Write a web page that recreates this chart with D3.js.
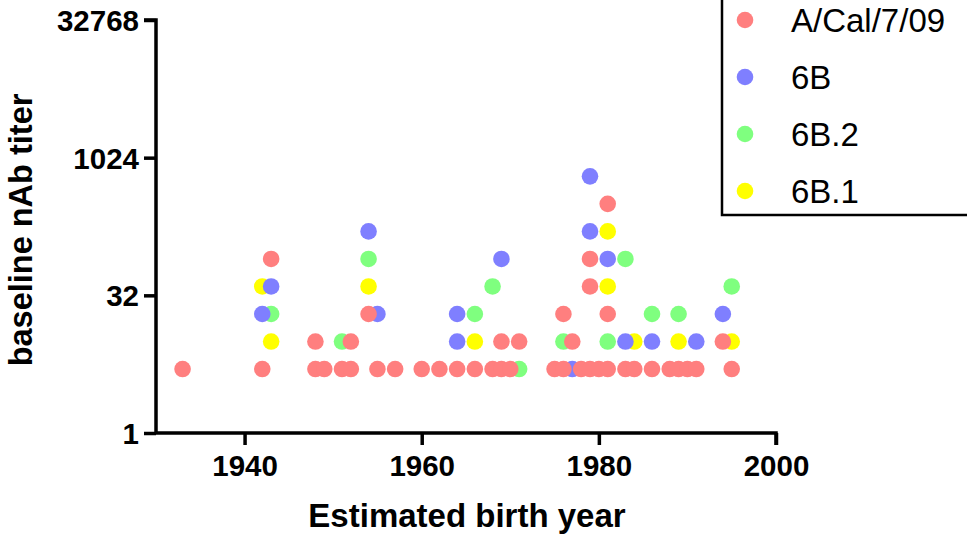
<!DOCTYPE html>
<html>
<head>
<meta charset="utf-8">
<script src="https://cdn.jsdelivr.net/npm/d3@7"></script>
<style>
  html, body { margin: 0; padding: 0; background: #fff; }
  svg { display: block; }
  text { font-family: "Liberation Sans", Arial, sans-serif; fill: #000; }
</style>
</head>
<body>
<svg id="chart" width="967" height="534"></svg>
<script>
// ---- data (estimated birth year, baseline nAb titer) ----
const seriesNames = ["A/Cal/7/09", "6B", "6B.2", "6B.1"];
const seriesColors = ["#ff7f7f", "#7f7fff", "#7fff7f", "#ffff00"];

const aCalYears  = [1933,1942,1943,1948,1948,1949,1951,1952,1952,1954,1955,1957,1960,1962,1964,1966,1968,1969,1969,1970,1971,1975,1976,1976,1977,1978,1979,1979,1979,1980,1981,1981,1981,1983,1984,1986,1988,1989,1990,1991,1994,1995];
const aCalTiters = [5,   5,   80,  10,  5,   5,   5,   10,  5,   20,  5,   5,   5,   5,   5,   5,   5,   10,  5,   5,   10,  5,   20,  5,   10,  5,   80,  40,  5,   5,   320, 20,  5,   5,   5,   5,   5,   5,   5,   5,   10,  5];

const b6Years  = [1942,1943,1954,1955,1964,1964,1969,1977,1979,1979,1981,1983,1986,1991,1994];
const b6Titers = [20,  40,  160, 20,  20,  10,  80,  5,   640, 160, 80,  10,  10,  10,  20];

const b62Years  = [1943,1951,1954,1966,1968,1971,1976,1981,1983,1986,1989,1995];
const b62Titers = [20,  10,  80,  20,  40,  5,   10,  10,  80,  20,  20,  40];

const b61Years  = [1942,1943,1954,1966,1981,1981,1984,1989,1995];
const b61Titers = [40,  10,  40,  10,  160, 40,  10,  10,  10];

const xTicks = [1940, 1960, 1980, 2000];
const yTicks = [1, 32, 1024, 32768];
const xTitle = "Estimated birth year";
const yTitle = "baseline nAb titer";

// ---- build series ----
const series = [
  {name: seriesNames[0], color: seriesColors[0], years: aCalYears, titers: aCalTiters},
  {name: seriesNames[1], color: seriesColors[1], years: b6Years,  titers: b6Titers},
  {name: seriesNames[2], color: seriesColors[2], years: b62Years, titers: b62Titers},
  {name: seriesNames[3], color: seriesColors[3], years: b61Years, titers: b61Titers}
].map(s => ({...s, points: s.years.map((y, i) => ({year: y, titer: s.titers[i]}))}));

const svg = d3.select("#chart");

const x = d3.scaleLinear().domain([1930, 2000]).range([156, 776]);
const y = d3.scaleLog().base(2).domain([1, 32768]).range([433, 20]);

// points: last series drawn first so A/Cal/7/09 ends on top
const drawOrder = series.slice().reverse();
const pts = svg.append("g");
drawOrder.forEach(s => {
  pts.append("g").selectAll("circle")
    .data(s.points)
    .join("circle")
    .attr("cx", d => x(d.year))
    .attr("cy", d => y(d.titer))
    .attr("r", 8.3)
    .attr("fill", s.color);
});

// axes
const axisW = 3.5;
const yAxis = svg.append("g").attr("transform", `translate(${x(1930)},0)`)
  .call(d3.axisLeft(y).tickValues(yTicks).tickFormat(d3.format("d")).tickSize(12).tickPadding(5));
const xAxis = svg.append("g").attr("transform", `translate(0,${y(1)})`)
  .call(d3.axisBottom(x).tickValues(xTicks).tickFormat(d3.format("d")).tickSize(12).tickPadding(10));

[yAxis, xAxis].forEach(g => {
  g.select(".domain").attr("stroke", "#000").attr("stroke-width", axisW);
  g.selectAll(".tick line").attr("stroke", "#000").attr("stroke-width", axisW);
  g.selectAll(".tick text")
    .attr("fill", "#000")
    .style("font-family", '"Liberation Sans", Arial, sans-serif')
    .style("font-weight", "bold")
    .style("font-size", "29.5px");
});
yAxis.selectAll(".tick text").attr("dy", "0.36em");
xAxis.select(".domain").attr("d", `M${x(1930)},0H${x(2000)}V12`);
yAxis.select(".domain").attr("d", `M-12,${y(32768)}H0V${y(1)}`);

// axis titles
svg.append("text")
  .attr("x", (x(1930) + x(2000)) / 2 + 1)
  .attr("y", 527)
  .attr("text-anchor", "middle")
  .style("font-weight", "bold")
  .style("font-size", "33px")
  .text(xTitle);

svg.append("text")
  .attr("transform", "translate(32,230) rotate(-90)")
  .attr("text-anchor", "middle")
  .style("font-weight", "bold")
  .style("font-size", "32.5px")
  .text(yTitle);

// legend
const lg = svg.append("g");
lg.append("rect")
  .attr("x", 722).attr("y", -10)
  .attr("width", 300).attr("height", 225)
  .attr("fill", "#fff").attr("stroke", "#000").attr("stroke-width", 2.5);
const rowY = [20, 77, 134, 191];
series.forEach((s, i) => {
  lg.append("circle")
    .attr("cx", 745).attr("cy", rowY[i]).attr("r", 8.3).attr("fill", s.color);
  lg.append("text")
    .attr("x", 791).attr("y", rowY[i] + 12)
    .style("font-size", "33px")
    .text(s.name);
});
</script>
</body>
</html>
